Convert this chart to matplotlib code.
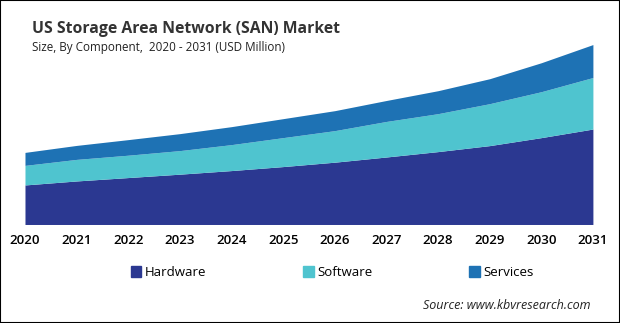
import matplotlib.pyplot as plt
import numpy as np
from matplotlib.patches import Rectangle

plt.rcParams['font.family'] = ['Open Sans', 'DejaVu Sans']

years = [2020, 2021, 2022, 2023, 2024, 2025, 2026, 2027, 2028, 2029, 2030, 2031]
hardware = [990, 1090, 1175, 1260, 1350, 1450, 1560, 1690, 1825, 1975, 2175, 2390]
software = [490, 540, 560, 590, 650, 725, 790, 890, 950, 1050, 1150, 1290]
services = [325, 350, 390, 425, 450, 475, 500, 525, 575, 625, 725, 825]

labels = ('Hardware', 'Software', 'Services')
colors = ('#2b3891', '#4fc4cf', '#1e72b4')

fig = plt.figure(figsize=(6.2, 3.23), dpi=100)
ax = fig.add_axes([0.0403, 0.305, 0.916, 0.557])

x = np.array(years)
h = np.array(hardware)
s = h + np.array(software)
t = s + np.array(services)

ax.fill_between(x, 0, h, color=colors[0], linewidth=0)
ax.fill_between(x, h, s, color=colors[1], linewidth=0)
ax.fill_between(x, s, t, color=colors[2], linewidth=0)

ax.set_xlim(years[0], years[-1])
ax.set_ylim(0, t.max())
for sp in ax.spines.values():
    sp.set_visible(False)
ax.set_yticks([])
ax.set_xticks(years)
ax.set_xticklabels([str(y) for y in years], fontsize=9.5, fontweight='semibold')
ax.tick_params(axis='x', length=0, pad=7)

fig.text(0.052, 0.91, 'US Storage Area Network (SAN) Market', fontsize=11.3,
         fontweight='bold', color='#333333', va='center')
fig.text(0.052, 0.852, 'Size, By Component,  2020 - 2031 (USD Million)', fontsize=8.4,
         color='#222222', va='center')

# legend
handles = [Rectangle((0, 0), 1, 1, color=c) for c in colors]
fig.legend(handles, labels, loc='center', bbox_to_anchor=(0.536, 0.156), ncol=3,
           frameon=False, fontsize=9.5, handlelength=0.8, handleheight=0.8,
           handletextpad=0.3, columnspacing=7.3)

fig.text(0.952, 0.055, 'Source: www.kbvresearch.com', fontsize=9, style='italic',
         ha='right', va='center', color='#222222')

fig.patches.append(Rectangle((0, 0), 1, 1, transform=fig.transFigure, fill=False,
                             edgecolor='black', linewidth=1.5))

fig.savefig('out.png', dpi=100)
